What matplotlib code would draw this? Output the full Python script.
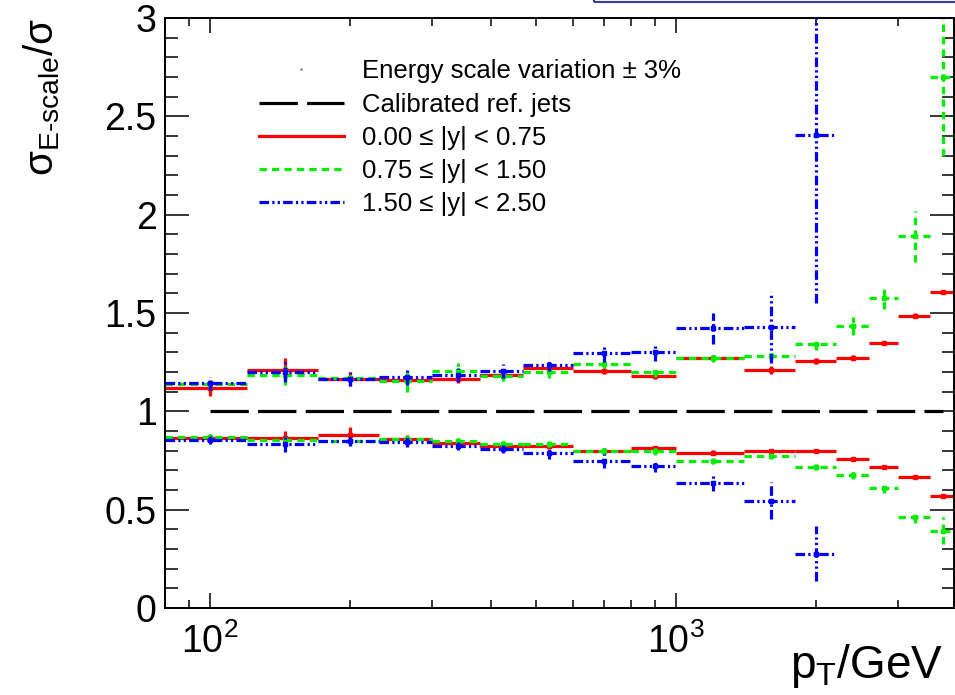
import numpy as np
import matplotlib
matplotlib.use('Agg')
import matplotlib.pyplot as plt
from matplotlib.lines import Line2D
from matplotlib.patches import Rectangle
from matplotlib.ticker import MultipleLocator, LogLocator, NullFormatter

# ================= 字体设置 (ROOT 风格的 Helvetica 近似) =================
plt.rcParams['font.family'] = ['Liberation Sans', 'DejaVu Sans']
plt.rcParams['mathtext.fontset'] = 'custom'
plt.rcParams['mathtext.rm'] = 'Liberation Sans'
plt.rcParams['mathtext.it'] = 'Liberation Sans:italic'
plt.rcParams['mathtext.bf'] = 'Liberation Sans:bold'

# ================= 数据 =================
# pT 分箱边界 / GeV
bin_edges = [80, 120, 170, 230, 300, 380, 470, 600, 800, 1000, 1400, 1800, 2200, 2600, 3000, 3500, 4000]

# 0.00 <= |y| < 0.75 : 能标 +3% (上) 与 -3% (下)
red_up = [1.12, 1.21, 1.165, 1.16, 1.165, 1.185, 1.218, 1.205, 1.181, 1.273, 1.212, 1.256, 1.273, 1.347, 1.486, 1.607]
red_up_err = [0.04, 0.06, 0.035, 0.02, 0.02, 0.02, 0.02, 0.015, 0.015, 0.012, 0.02, 0.015, 0.012, 0.012, 0.012, 0.01]
red_dn = [0.866, 0.865, 0.88, 0.858, 0.84, 0.826, 0.822, 0.80, 0.812, 0.79, 0.798, 0.798, 0.757, 0.717, 0.665, 0.568]
red_dn_err = [0.02, 0.035, 0.04, 0.02, 0.02, 0.02, 0.015, 0.015, 0.012, 0.012, 0.012, 0.01, 0.01, 0.008, 0.008, 0.008]

# 0.75 <= |y| < 1.50
green_up = [1.137, 1.183, 1.168, 1.152, 1.205, 1.18, 1.20, 1.24, 1.20, 1.273, 1.283, 1.34, 1.434, 1.578, 1.891, 2.70]
green_up_err = [0.02, 0.05, 0.02, 0.055, 0.04, 0.025, 0.03, 0.02, 0.025, 0.02, 0.02, 0.03, 0.047, 0.06, 0.13, 0.40]
green_dn = [0.868, 0.853, 0.847, 0.858, 0.848, 0.832, 0.835, 0.80, 0.80, 0.749, 0.771, 0.718, 0.675, 0.609, 0.464, 0.393]
green_dn_err = [0.015, 0.02, 0.02, 0.02, 0.02, 0.02, 0.015, 0.02, 0.02, 0.015, 0.015, 0.015, 0.02, 0.025, 0.03, 0.068]

# 1.50 <= |y| < 2.50 (只到 2000 GeV 这一箱)
blue_up = [1.142, 1.20, 1.164, 1.176, 1.185, 1.205, 1.235, 1.295, 1.303, 1.422, 1.427, 2.405]
blue_up_err = [0.035, 0.05, 0.035, 0.04, 0.035, 0.035, 0.03, 0.045, 0.045, 0.08, 0.18, 0.855]
blue_dn = [0.853, 0.835, 0.847, 0.842, 0.825, 0.807, 0.786, 0.749, 0.724, 0.637, 0.546, 0.275]
blue_dn_err = [0.02, 0.04, 0.025, 0.025, 0.02, 0.02, 0.03, 0.035, 0.03, 0.04, 0.093, 0.14]

ref_value = 1.0  # 校准参考喷注
labels = ['Energy scale variation ± 3%', 'Calibrated ref. jets',
          '0.00 ≤ |y| < 0.75', '0.75 ≤ |y| < 1.50', '1.50 ≤ |y| < 2.50']

# ================= 样式 =================
LW = 2.3
dash_black = (0, (12.0, 2.9))
dash_green = (0, (2.3, 1.6))
dash_blue = (0, (3.0, 1.0, 0.7, 1.0, 0.7, 1.0))

edges = np.array(bin_edges, dtype=float)
lo_all, hi_all = edges[:-1], edges[1:]
centers_all = 0.5 * (lo_all + hi_all)

fig = plt.figure(figsize=(9.55, 6.95), dpi=100)
ax = fig.add_axes([165 / 955, 87 / 695, 789 / 955, 590 / 695])


def draw_points(vals, errs, color, ls):
    # ROOT 风格: 横线 = 分箱宽度, 竖线 = 误差
    n = len(vals)
    vals = np.array(vals)
    errs = np.array(errs)
    lo, hi, c = lo_all[:n], hi_all[:n], centers_all[:n]
    ax.hlines(vals, lo, hi, colors=color, linestyles=[ls], lw=LW)
    ax.vlines(c, vals - errs, vals + errs, colors=color, linestyles=[ls], lw=LW)
    ax.plot(c, vals, ls='none', marker='s', ms=2.5, color=color)


# 参考线 y = 1
ax.plot([centers_all[0], centers_all[-1]], [ref_value, ref_value], color='black', lw=LW, linestyle=dash_black)

draw_points(red_up, red_up_err, 'red', 'solid')
draw_points(red_dn, red_dn_err, 'red', 'solid')
draw_points(green_up, green_up_err, '#00ee00', dash_green)
draw_points(green_dn, green_dn_err, '#00ee00', dash_green)
draw_points(blue_up, blue_up_err, 'blue', dash_blue)
draw_points(blue_dn, blue_dn_err, 'blue', dash_blue)

# ================= 坐标轴 =================
ax.set_xscale('log')
ax.set_xlim(80, 3950)
ax.set_ylim(0, 3)
ax.yaxis.set_minor_locator(MultipleLocator(0.1))
ax.xaxis.set_major_locator(LogLocator(base=10))
ax.xaxis.set_minor_locator(LogLocator(base=10, subs=np.arange(2, 10)))
ax.xaxis.set_minor_formatter(NullFormatter())
ax.set_yticks([0, 0.5, 1, 1.5, 2, 2.5, 3])
ax.set_yticklabels(['0', '0.5', '1', '1.5', '2', '2.5', '3'])

ax.tick_params(axis='both', which='both', direction='in', top=True, right=True, width=1.1, colors='black')
ax.tick_params(axis='y', which='major', length=17, pad=6, labelsize=27)
ax.tick_params(axis='y', which='minor', length=9)
ax.tick_params(axis='x', which='major', length=11, pad=11, labelsize=27)
ax.tick_params(axis='x', which='minor', length=5.5)
for sp in ax.spines.values():
    sp.set_linewidth(1.4)

ax.set_ylabel(r'$\mathrm{\sigma}_{\mathrm{E\text{-}scale}}/\mathrm{\sigma}$', fontsize=29, loc='top')
ax.yaxis.set_label_coords(-0.130, 1.0)
ax.set_xlabel(r'$\mathrm{p_{T}/GeV}$', fontsize=33, loc='right')
ax.xaxis.set_label_coords(0.986, -0.058)

# ================= 图例 =================
handles = [
    Line2D([], [], ls='none', marker='.', ms=1.5, color='grey'),
    Line2D([], [], color='black', lw=LW, linestyle=dash_black),
    Line2D([], [], color='red', lw=LW),
    Line2D([], [], color='#00ee00', lw=LW, linestyle=dash_green),
    Line2D([], [], color='blue', lw=LW, linestyle=dash_blue),
]
ax.legend(handles, labels, loc='upper left', bbox_to_anchor=(0.119, 0.930), frameon=False,
          fontsize=18.5, handlelength=3.3, handletextpad=0.72, labelspacing=0.36,
          borderpad=0, borderaxespad=0)

# 顶部被裁掉的标题框边缘
fig.add_artist(Rectangle((594 / 955, 1 - 2 / 695), 0.5, 0.1, transform=fig.transFigure,
                         fill=False, edgecolor='#3a3aa0', lw=1.5, clip_on=False))

fig.savefig('out.png', dpi=100)
